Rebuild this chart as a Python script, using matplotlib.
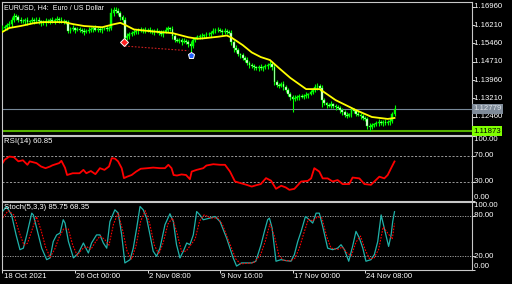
import numpy as np
import matplotlib
matplotlib.use("Agg")
import matplotlib.pyplot as plt

W, H = 512, 284

# EURUSD H4 closes, one per bar (bar 0 = 18 Oct 16:00)
CLOSE = [
    1.1609, 1.1613, 1.1621, 1.1625, 1.1642, 1.1658, 1.1654, 1.1642, 1.1637, 1.1637,
    1.1642, 1.1633, 1.1637, 1.1642, 1.1637, 1.1642, 1.1637, 1.1633, 1.1629, 1.1637,
    1.1637, 1.1642, 1.1637, 1.1642, 1.1646, 1.1642, 1.1637, 1.1637, 1.1633, 1.1597,
    1.1605, 1.1609, 1.1601, 1.1605, 1.1601, 1.1597, 1.1593, 1.1597, 1.1601, 1.1605,
    1.1609, 1.1601, 1.1605, 1.1601, 1.1605, 1.1609, 1.1605, 1.1609, 1.1670, 1.1683,
    1.1679, 1.1670, 1.1654, 1.1642, 1.1568, 1.1576, 1.1584, 1.1589, 1.1593, 1.1597,
    1.1601, 1.1597, 1.1601, 1.1597, 1.1601, 1.1597, 1.1593, 1.1597, 1.1593, 1.1589,
    1.1584, 1.1593, 1.1601, 1.1609, 1.1605, 1.1576, 1.1560, 1.1556, 1.1560, 1.1552,
    1.1556, 1.1552, 1.1543, 1.1535, 1.1560, 1.1568, 1.1572, 1.1576, 1.1576, 1.1580,
    1.1584, 1.1584, 1.1589, 1.1597, 1.1601, 1.1601, 1.1597, 1.1593, 1.1597, 1.1593,
    1.1589, 1.1552, 1.1527, 1.1519, 1.1502, 1.1498, 1.1486, 1.1478, 1.1466, 1.1457,
    1.1453, 1.1449, 1.1445, 1.1449, 1.1445, 1.1449, 1.1453, 1.1457, 1.1462, 1.1449,
    1.1388, 1.1376, 1.1372, 1.1380, 1.1368, 1.1355, 1.1339, 1.1327, 1.1319, 1.1323,
    1.1327, 1.1331, 1.1327, 1.1331, 1.1335, 1.1339, 1.1347, 1.1355, 1.1368, 1.1372,
    1.1363, 1.1314, 1.1302, 1.1294, 1.1290, 1.1298, 1.1290, 1.1286, 1.1282, 1.1273,
    1.1265, 1.1253, 1.1249, 1.1257, 1.1273, 1.1269, 1.1257, 1.1253, 1.1249, 1.1241,
    1.1237, 1.1208, 1.1204, 1.1212, 1.1216, 1.1220, 1.1225, 1.1220, 1.1225, 1.1220,
    1.1225, 1.1229, 1.1257, 1.1278,
]
FIRST_OPEN = 1.1605
# wick lengths above / below the body, in pips
WICK_UP = [
    12, 10, 8, 14, 12, 12, 10, 8, 12, 10, 8, 12, 6, 10, 8, 12, 10, 6, 8, 12,
    10, 8, 12, 6, 10, 8, 12, 8, 6, 10, 8, 12, 6, 10, 8, 6, 12, 8, 10, 6,
    8, 12, 6, 10, 8, 6, 10, 8, 20, 12, 12, 10, 8, 6, 10, 12, 8, 6, 10, 8,
    6, 10, 8, 12, 6, 10, 8, 6, 10, 8, 12, 6, 10, 8, 6, 12, 8, 10, 6, 8,
    10, 6, 8, 12, 10, 6, 8, 10, 12, 6, 8, 10, 6, 12, 8, 10, 6, 8, 12, 6,
    8, 10, 6, 12, 8, 6, 10, 8, 12, 6, 8, 10, 6, 8, 12, 6, 10, 8, 10, 8,
    12, 10, 6, 8, 12, 6, 8, 10, 6, 12, 8, 6, 10, 8, 12, 6, 10, 8, 12, 10,
    8, 12, 10, 6, 8, 12, 6, 10, 8, 6, 10, 8, 12, 6, 10, 8, 6, 12, 8, 10,
    6, 8, 12, 10, 6, 8, 10, 6, 8, 12, 6, 10, 8, 14,
]
WICK_DN = [
    10, 8, 12, 6, 10, 8, 12, 10, 6, 8, 12, 10, 8, 6, 10, 8, 12, 16, 6, 10,
    8, 12, 6, 10, 8, 12, 6, 10, 8, 10, 10, 8, 12, 6, 10, 8, 14, 6, 10, 8,
    12, 6, 10, 8, 12, 6, 10, 8, 10, 12, 8, 10, 12, 10, 21, 8, 12, 6, 10, 8,
    12, 6, 10, 8, 6, 10, 8, 12, 6, 10, 8, 12, 6, 10, 8, 12, 10, 6, 8, 12,
    6, 10, 12, 24, 8, 10, 6, 8, 12, 6, 10, 8, 12, 6, 8, 10, 6, 12, 8, 10,
    6, 12, 16, 10, 8, 12, 6, 10, 8, 12, 6, 10, 8, 12, 6, 10, 8, 12, 6, 10,
    12, 8, 10, 6, 12, 8, 10, 12, 54, 10, 8, 12, 6, 10, 8, 12, 6, 10, 8, 12,
    10, 28, 8, 12, 6, 10, 8, 12, 6, 10, 12, 8, 10, 6, 12, 8, 10, 6, 12, 8,
    10, 12, 16, 8, 10, 6, 12, 8, 10, 6, 8, 12, 10, 6,
]

# moving average (yellow)
MA_BARS = [0, 3, 8, 14, 18, 27, 31, 36, 44, 49, 52, 54, 58, 66, 75, 82, 86, 89,
           95, 99, 101, 106, 110, 114, 118, 122, 127, 134, 140, 147, 156, 163, 170, 173]
MA_VALS = [1.1593, 1.1609, 1.1617, 1.1629, 1.1633, 1.1633, 1.1625, 1.1617, 1.1612,
           1.1624, 1.1630, 1.1622, 1.1603, 1.1595, 1.1588, 1.1571, 1.1565, 1.1567,
           1.1573, 1.1578, 1.1570, 1.1539, 1.1509, 1.1490, 1.1478, 1.1445, 1.1405,
           1.1359, 1.1359, 1.1314, 1.1273, 1.1245, 1.1237, 1.1241]

RSI_BARS = [0, 1, 3, 5, 7, 9, 11, 12, 15, 17, 19, 21, 22, 25, 26, 27.6, 28.5, 31, 34,
            35.7, 37, 39, 41, 43, 45, 47, 48.2, 49.6, 51, 52.6, 53.6, 55, 57, 59, 61,
            64, 66.5, 69.5, 71.7, 73.2, 74.6, 75.5, 77, 79, 81, 82.7, 83.5, 85.7, 88.6,
            90, 93, 96, 98.2, 100.4, 102.6, 104.8, 107.7, 110, 112, 114, 116.3, 118.5,
            120.7, 123, 125, 126.6, 128.8, 130.3, 131.8, 134.7, 136.2, 137.6, 139.8,
            141.3, 143.5, 145.7, 147.9, 150.1, 153, 154.5, 157.5, 159.7, 162.6, 164,
            166.3, 168.5, 170, 171.5, 173]
RSI_VALS = [58.3, 63.6, 68.4, 67.5, 61.0, 62.7, 55.7, 61.0, 58.3, 53.1, 50.5, 53.1, 54.9,
            58.3, 61.8, 51.0, 40.0, 42.7, 42.7, 47.9, 42.7, 46.1, 41.3, 50.5, 47.9, 53.1,
            65.9, 65.3, 61.0, 50.5, 35.2, 37.4, 40.0, 45.3, 49.6, 50.5, 51.4, 50.5, 50.5,
            55.7, 50.5, 40.0, 39.2, 40.9, 40.0, 33.6, 45.3, 47.9, 50.5, 54.6, 56.6, 55.7,
            55.7, 45.3, 30.0, 27.8, 24.9, 22.2, 24.3, 26.1, 35.2, 31.3, 18.8, 23.5, 20.9,
            17.2, 18.7, 24.3, 30.0, 30.9, 34.8, 50.5, 45.3, 34.8, 34.8, 30.0, 32.2, 26.0,
            26.1, 36.1, 34.8, 26.1, 24.9, 29.6, 37.4, 34.8, 40.0, 50.5, 60.85]

K_BARS = [0, 1.8, 4, 6, 7.7, 9.2, 10.7, 12.9, 13.6, 15.1, 17.3, 19.5, 21, 22.4, 23.9,
          25.4, 26.8, 27.6, 29.1, 31.3, 33.5, 35.7, 36.8, 37.9, 39.3, 41.5, 43, 44.5,
          46, 47.4, 49.6, 51.1, 52.6, 54, 56.3, 57.7, 59.2, 60.7, 62.1, 63.6, 65.1,
          66.5, 68, 69.5, 71.7, 73.9, 75.4, 76.8, 78.3, 79.8, 81.3, 82.7, 84.2, 85.7,
          87.1, 88.6, 91.5, 93.8, 96, 98.9, 101.8, 103.3, 105.5, 107.7, 109.9, 111.8,
          114.1, 115.6, 117, 117.8, 119, 120.7, 122.9, 125.1, 127.3, 128.8, 130.3,
          131.8, 133.7, 135.4, 136.9, 138.4, 139.8, 141.3, 143.5, 145.7, 147.9, 149.4,
          150.9, 152.8, 154.5, 156, 157.5, 159, 160.4, 162.6, 164.1, 165.6, 167.1,
          168.5, 170.4, 171.5, 172.2, 173]
K_VALS = [86.0, 93.4, 81.0, 51.6, 29.9, 32.1, 51.6, 83.6, 81.0, 61.4, 32.1, 15.2, 17.8,
          41.9, 51.6, 54.3, 73.9, 69.0, 41.9, 17.8, 25.0, 39.7, 32.1, 25.0, 39.7, 51.6,
          51.6, 39.7, 32.1, 71.2, 88.5, 83.6, 51.6, 10.4, 15.2, 32.1, 61.4, 93.4, 88.5,
          76.3, 51.6, 27.6, 20.2, 32.1, 66.6, 82.7, 71.2, 37.2, 17.8, 27.6, 39.7, 37.2,
          51.6, 86.0, 81.0, 73.9, 76.3, 78.7, 71.2, 47.0, 17.8, 5.8, 10.4, 10.4, 10.4,
          12.9, 37.2, 56.8, 73.9, 76.3, 61.4, 12.9, 15.2, 13.8, 12.9, 22.6, 41.9, 56.8,
          78.7, 73.9, 69.0, 83.6, 83.6, 64.1, 32.1, 29.9, 32.1, 37.2, 29.9, 12.9, 34.7,
          56.8, 47.0, 32.1, 12.9, 15.2, 22.6, 41.9, 81.0, 61.4, 34.7, 51.6, 71.2, 85.75]

D_BARS = [0, 2.5, 5, 7.5, 9.5, 11, 13, 15, 17, 19, 21, 23, 25, 27, 29, 31, 33, 35, 37,
          39, 41, 43, 45, 47, 49, 51, 53, 55, 57, 59, 61, 63, 65, 67, 69, 71, 73, 75,
          77, 79, 81, 83, 85, 87, 89, 92, 95, 97, 100, 103, 105, 108, 111, 114, 116,
          118, 120, 122, 124, 127, 129, 131, 133, 135, 137, 139, 141, 143, 145, 148,
          150, 152, 154, 156, 158, 160, 162, 164, 166, 168, 170, 172, 173]
D_VALS = [76.5, 87.2, 81.0, 54.3, 36.5, 39.2, 58.7, 78.3, 58.7, 33.8, 18.7, 30.3, 48.1,
          60.5, 60.5, 36.5, 21.4, 30.3, 34.7, 30.3, 41.0, 49.9, 45.4, 36.5, 67.6, 83.6,
          58.7, 27.6, 16.1, 36.5, 72.1, 87.2, 67.6, 36.5, 23.2, 41.0, 67.6, 76.5, 54.3,
          27.6, 27.6, 36.5, 45.4, 72.1, 81.0, 76.5, 76.5, 67.6, 41.0, 16.1, 9.0, 9.8,
          10.7, 23.2, 42.7, 67.6, 49.9, 21.4, 14.3, 13.4, 17.0, 32.1, 54.3, 74.7, 72.1,
          78.3, 76.5, 49.9, 32.1, 30.3, 33.8, 25.0, 21.4, 41.0, 49.9, 30.3, 16.1, 17.8,
          30.3, 63.2, 54.3, 45.4, 68.35]

PRICE_TICKS = [1.16960, 1.16210, 1.15460, 1.14710, 1.13960, 1.13210, 1.12460]
BID = 1.12779
HLINE = 1.11873
TIME_TICKS = [0, 32, 64, 96, 128, 160]
TIME_LABELS = ["18 Oct 2021", "26 Oct 00:00", "2 Nov 08:00", "9 Nov 16:00",
               "17 Nov 00:00", "24 Nov 08:00"]
TRADE_BARS = [54, 82]
TRADE_PRICES = [1.1535, 1.1516]
ENTRY_MARK = (53.8, 1.1550)
EXIT_MARK = (83.0, 1.1498)

LIME = "#00ff00"
FRAME = "#c8c8c8"
FS = 5.6
XLIM = (-0.22, 207.2)


def box(top, bottom):
    return [2 / W, 1 - bottom / H, 470 / W, (bottom - top) / H]


def style(ax):
    ax.set_facecolor("black")
    ax.set_xlim(*XLIM)
    for s in ax.spines.values():
        s.set_color(FRAME)
        s.set_linewidth(0.8)
    ax.tick_params(axis="y", left=False, right=True, labelleft=False, labelright=False,
                   length=2.2, width=0.6, color="white")
    ax.tick_params(axis="x", bottom=False, labelbottom=False)


def rlabel(ax, y, text, va="center"):
    ax.text(1.0, y, text, transform=ax.get_yaxis_transform(), color="white",
            fontsize=FS, ha="left", va=va, clip_on=False)


plt.rcParams["font.family"] = ["Liberation Sans", "DejaVu Sans"]
fig = plt.figure(figsize=(W / 100, H / 100), dpi=100, facecolor="black")

# ── main price window ──────────────────────────────────────────────────────
ax = fig.add_axes(box(2, 135))
style(ax)
ax.set_ylim(1.11713, 1.17152)
c = np.array(CLOSE)
o = np.array([FIRST_OPEN] + CLOSE[:-1])
hi = np.maximum(o, c) + np.array(WICK_UP) * 1e-4
lo = np.minimum(o, c) - np.array(WICK_DN) * 1e-4
idx = np.arange(len(c))
ax.vlines(idx, lo, hi, color=LIME, lw=0.8, zorder=3)
bull = c >= o
body = np.maximum(np.abs(c - o), 0.00015)
bottom = np.minimum(o, c)
ax.bar(idx[bull], body[bull], bottom=bottom[bull], width=0.8, color=LIME,
       edgecolor=LIME, lw=0.3, zorder=4)
ax.bar(idx[~bull], body[~bull], bottom=bottom[~bull], width=0.8, color="white",
       edgecolor=LIME, lw=0.3, zorder=4)
ax.plot(MA_BARS, MA_VALS, color="#ffff00", lw=1.3, zorder=5)
ax.axhline(BID, color="#778899", lw=0.8, zorder=2)
ax.axhline(HLINE, color="#55b000", lw=1.5, zorder=2)
ax.plot(TRADE_BARS, TRADE_PRICES, color="#d02020", lw=0.8, ls=(0, (1.5, 1.5)), zorder=5)
ax.plot(*ENTRY_MARK, marker="D", ms=4.2, mfc="#ff2020", mec="white", mew=0.7, zorder=6)
ax.plot(*EXIT_MARK, marker="p", ms=5.0, mfc="#2060ff", mec="white", mew=0.7, zorder=6)
ax.set_yticks(PRICE_TICKS)
for p in PRICE_TICKS:
    rlabel(ax, p, f" {p:.5f}")
ax.text(1.0025, BID, f"{BID:.5f}", transform=ax.get_yaxis_transform(), color="#dfe4ea",
        fontsize=FS, ha="left", va="center", clip_on=False,
        bbox=dict(boxstyle="square,pad=0.18", fc="#7f8b99", ec="none"))
ax.text(1.0025, HLINE, f"{HLINE:.5f}", transform=ax.get_yaxis_transform(), color="black",
        fontsize=FS, ha="left", va="center", clip_on=False,
        bbox=dict(boxstyle="square,pad=0.18", fc="#80ff00", ec="none"))
ax.text(0.005, 0.962, "EURUSD, H4:  Euro / US Dollar", transform=ax.transAxes,
        color="white", fontsize=5.0, ha="left", va="center")

# ── RSI window ─────────────────────────────────────────────────────────────
ar = fig.add_axes(box(136, 201))
style(ar)
ar.set_ylim(0, 100)
for lvl in (70, 30):
    ar.axhline(lvl, color="#b0b0b0", lw=0.6, ls=(0, (2.5, 2)))
ar.plot(RSI_BARS, RSI_VALS, color="#ff0000", lw=1.3)
ar.set_yticks([100, 70, 30, 0])
rlabel(ar, 100, " 100.00", va="top")
rlabel(ar, 70, " 70.00")
rlabel(ar, 30, " 30.00")
rlabel(ar, 0, " 0.00", va="bottom")
ar.text(0.004, 0.92, "RSI(14) 60.85", transform=ar.transAxes, color="white",
        fontsize=FS, ha="left", va="center")

# ── Stochastic window ──────────────────────────────────────────────────────
ak = fig.add_axes(box(202, 270))
style(ak)
ak.set_ylim(0, 100)
for lvl in (80, 20):
    ak.axhline(lvl, color="#b0b0b0", lw=0.6, ls=(0, (1.5, 1.5)))
ak.plot(K_BARS, K_VALS, color="#20b2aa", lw=0.9)
ak.plot(D_BARS, D_VALS, color="#ff0000", lw=0.8, ls=(0, (1.5, 1.2)))
ak.set_yticks([100, 80, 20, 0])
rlabel(ak, 100, " 100.00", va="top")
rlabel(ak, 80, " 80.00")
rlabel(ak, 20, " 20.00")
rlabel(ak, 0, " 0.00", va="bottom")
ak.text(0.004, 0.925, "Stoch(5,3,3) 85.75 68.35", transform=ak.transAxes, color="white",
        fontsize=FS, ha="left", va="center")
ak.set_xticks(TIME_TICKS)
ak.tick_params(axis="x", bottom=True, labelbottom=False, length=2.2, width=0.6,
               color="white", direction="out")
for t, lab in zip(TIME_TICKS, TIME_LABELS):
    ak.text(t + 0.5, -0.1, lab, transform=ak.get_xaxis_transform(), color="white",
            fontsize=FS, ha="left", va="center", clip_on=False)

fig.savefig("out.png", dpi=100, facecolor="black")
